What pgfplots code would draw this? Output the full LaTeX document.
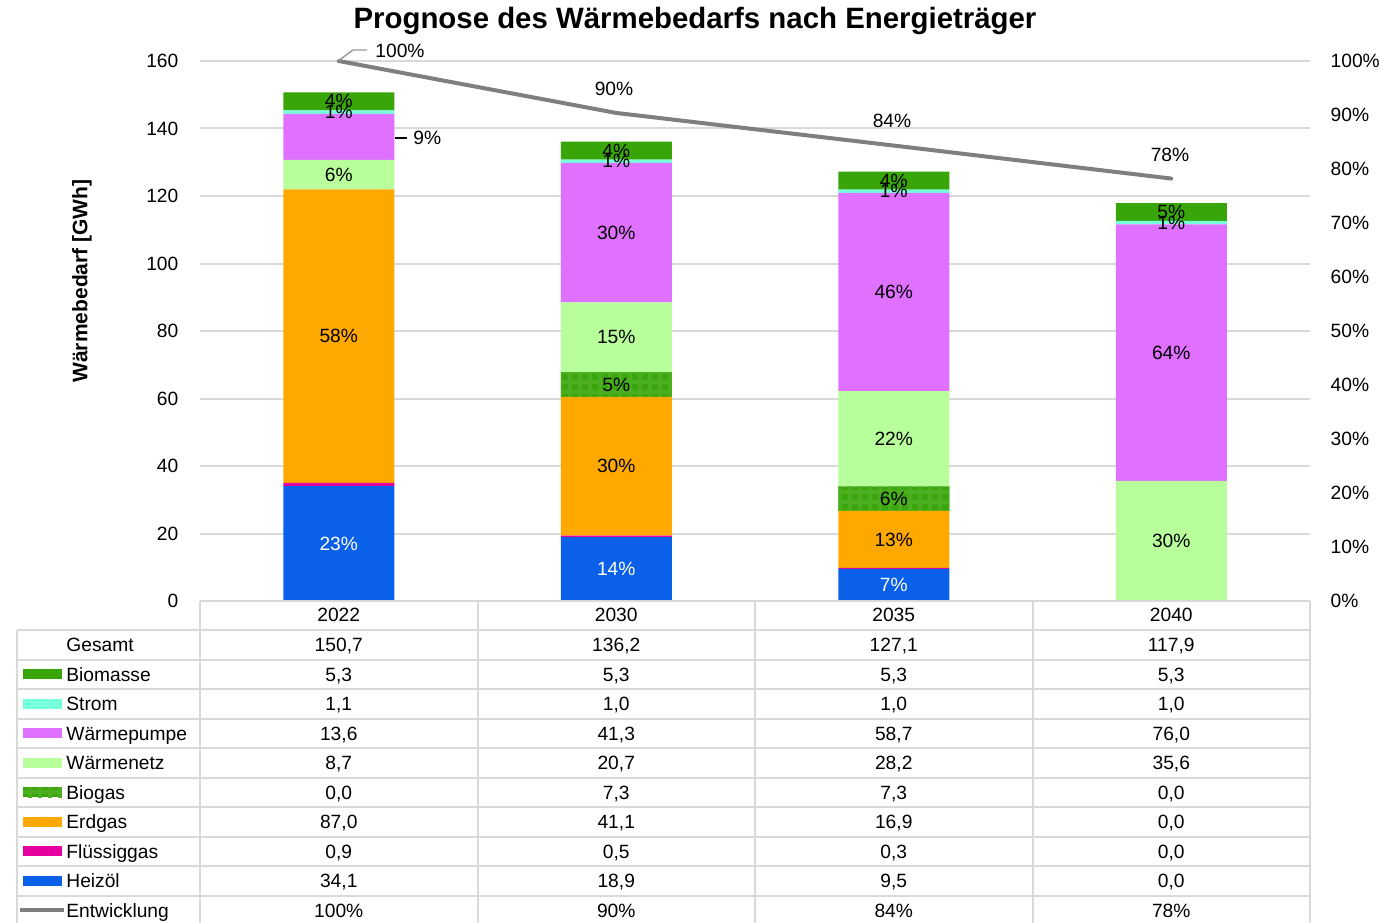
\documentclass[border=0pt]{standalone}
\usepackage{pgfplots}
\pgfplotsset{compat=1.18}
\usepackage{pgfplotstable}
\usepackage{fontspec}
\setmainfont{Liberation Sans}
\usetikzlibrary{patterns.meta}
\definecolor{cBiomasse}{HTML}{38A508}
\definecolor{cStrom}{HTML}{76FFDC}
\definecolor{cWP}{HTML}{E070FF}
\definecolor{cWN}{HTML}{B8FF9C}
\definecolor{cBiogas}{HTML}{3AA50C}
\definecolor{cBiogasL}{HTML}{4AAE1E}
\definecolor{cErdgas}{HTML}{FFA800}
\definecolor{cFluess}{HTML}{E600A0}
\definecolor{cHeizoel}{HTML}{0A60E8}
\definecolor{cLine}{HTML}{7F7F7F}
\definecolor{cGrid}{HTML}{D9D9D9}
\newcommand\tf{\fontsize{9.6}{11.5}\selectfont}

\pgfplotstableread{
x Heizoel Fluessiggas Erdgas Biogas Waermenetz Waermepumpe Strom Biomasse Gesamt Entw
0 34.1 0.9 87.0 0.0 8.7 13.6 1.1 5.3 150.7 100
1 18.9 0.5 41.1 7.3 20.7 41.3 1.0 5.3 136.2 90.38
2 9.5 0.3 16.9 7.3 28.2 58.7 1.0 5.3 127.1 84.34
3 0.0 0.0 0.0 0.0 35.6 76.0 1.0 5.3 117.9 78.23
}\data

\pgfplotstableread{
x y p
0 148.05 4
0 144.85 1
0 126.35 6
0 78.5 58
1 133.45 4
1 130.3 1
1 109.15 30
1 78.15 15
1 64.15 5
1 39.95 30
2 124.55 4
2 121.4 1
2 91.55 46
2 48.1 22
2 30.35 6
2 18.25 13
3 115.25 5
3 112.1 1
3 73.6 64
3 17.8 30
}\blacklab

\pgfplotstableread{
x y p
0 17.05 23
1 9.45 14
2 4.75 7
}\whitelab

\tikzset{biogasfill/.style={fill=cBiogas, postaction={pattern={Hatch[angle=0, distance=5pt, line width=2.2pt]}, pattern color=cBiogasL}}}

\begin{document}
\begin{tikzpicture}

\begin{axis}[
  at={(0,0)}, anchor=south west,
  scale only axis, width=555pt, height=270pt,
  xmin=-0.5, xmax=3.5, ymin=0, ymax=160,
  enlargelimits=false,
  ybar stacked, bar width=55.5pt,
  xtick={0,1,2,3}, xticklabels={2022,2030,2035,2040},
  ytick={0,20,...,160},
  ymajorgrids, grid style={cGrid, line width=1pt},
  axis line style={draw=none},
  major tick length=0pt,
  tick label style={font=\tf},
  /pgf/number format/assume math mode=true,
  xticklabel style={anchor=base, yshift=-10pt},
  yticklabel style={xshift=-7.3pt},
  clip=false,
]
\addplot[fill=cHeizoel, draw=none] table[x=x, y=Heizoel] {\data};
\addplot[fill=cFluess, draw=none] table[x=x, y=Fluessiggas] {\data};
\addplot[fill=cErdgas, draw=none] table[x=x, y=Erdgas] {\data};
\addplot[biogasfill, draw=none] table[x=x, y=Biogas] {\data};
\addplot[fill=cWN, draw=none] table[x=x, y=Waermenetz] {\data};
\addplot[fill=cWP, draw=none] table[x=x, y=Waermepumpe] {\data};
\addplot[fill=cStrom, draw=none] table[x=x, y=Strom] {\data};
\addplot[fill=cBiomasse, draw=none] table[x=x, y=Biomasse] {\data};
\end{axis}

\begin{axis}[
  at={(0,0)}, anchor=south west,
  scale only axis, width=555pt, height=270pt,
  xmin=-0.5, xmax=3.5, ymin=0, ymax=160,
  enlargelimits=false, hide axis, clip=false,
]
\addplot[mark=none, draw=none, nodes near coords={\pgfplotspointmeta\%},
  point meta=explicit symbolic,
  every node near coord/.append style={anchor=center, font=\tf, text=black, inner sep=0pt}]
  table[x=x, y=y, meta=p] {\blacklab};
\addplot[mark=none, draw=none, nodes near coords={\pgfplotspointmeta\%},
  point meta=explicit symbolic,
  every node near coord/.append style={anchor=center, font=\tf, text=white, inner sep=0pt}]
  table[x=x, y=y, meta=p] {\whitelab};
\end{axis}

\begin{axis}[
  at={(0,0)}, anchor=south west,
  scale only axis, width=555pt, height=270pt,
  xmin=-0.5, xmax=3.5, ymin=0, ymax=100,
  enlargelimits=false,
  axis x line=none, axis y line*=right,
  axis line style={draw=none}, major tick length=0pt,
  ytick={0,10,...,100},
  yticklabel={\pgfmathprintnumber{\tick}\%},
  yticklabel style={font=\tf, xshift=6.8pt},
  /pgf/number format/assume math mode=true,
  clip=false,
]
\addplot[cLine, line width=2pt, mark=none, line cap=round] table[x=x, y=Entw] {\data};
\end{axis}

\begin{scope}[x=0.5pt, y=-0.5pt, xshift=-100pt, yshift=300.5pt]
  % title and y label
  \node[font=\bfseries\fontsize{14.7}{17}\selectfont, anchor=center] at (695,21) {Prognose des Wärmebedarfs nach Energieträger};
  \node[font=\bfseries\fontsize{10.5}{12}\selectfont, rotate=90, anchor=center] at (82,281) {Wärmebedarf [GWh]};
  % annotations
  \draw[black, line width=0.9pt] (395,138) -- (407,138);
  \node[font=\tf, anchor=west, inner sep=0pt] at (413,138) {9\%};
  \draw[cLine!80, line width=0.7pt] (338,61) -- (353,50) -- (367,50);
  \node[font=\tf, anchor=west, inner sep=0pt] at (375,51) {100\%};
  \node[font=\tf] at (614,89) {90\%};
  \node[font=\tf] at (892,121) {84\%};
  \node[font=\tf] at (1170,155) {78\%};
  % table grid
  \foreach \k in {0,...,9} {
    \draw[cGrid, line width=1pt] (17,{630+29.5*\k}) -- (1310,{630+29.5*\k});
  }
  \draw[cGrid, line width=1pt] (17,630) -- (17,930);
  \foreach \xx in {200,477.5,755,1032.5,1310} {
    \draw[cGrid, line width=1pt] (\xx,601) -- (\xx,930);
  }
  \draw[cGrid, line width=1pt] (200,601) -- (1310,601);
  % row labels
  \foreach \lab [count=\i from 0] in {Gesamt,Biomasse,Strom,Wärmepumpe,Wärmenetz,Biogas,Erdgas,Flüssiggas,Heizöl,Entwicklung} {
    \node[anchor=base west, inner sep=0pt, font=\tf] at (66,{630+29.5*\i+21.75}) {\lab};
  }
  % legend keys
  \foreach \c [count=\i from 1] in {cBiomasse,cStrom,cWP,cWN,cBiogas,cErdgas,cFluess,cHeizoel} {
    \fill[\c] (23,{630+29.5*\i+9.75}) rectangle (62,{630+29.5*\i+19.75});
  }
  \fill[biogasfill] (23,{630+29.5*5+9.75}) rectangle (62,{630+29.5*5+19.75});
  \draw[cLine, line width=2pt] (20,{630+29.5*9+14.75}) -- (64,{630+29.5*9+14.75});
  % values
  \foreach \col [count=\i from 0] in {Gesamt,Biomasse,Strom,Waermepumpe,Waermenetz,Biogas,Erdgas,Fluessiggas,Heizoel} {
    \foreach \r in {0,1,2,3} {
      \pgfplotstablegetelem{\r}{\col}\of\data
      \node[anchor=base, inner sep=0pt, font=\tf] at ({338.75+277.5*\r},{630+29.5*\i+21.75}) {\pgfmathprintnumber[assume math mode=true, fixed, fixed zerofill, precision=1, use comma]{\pgfplotsretval}};
    }
  }
  \foreach \r in {0,1,2,3} {
    \pgfplotstablegetelem{\r}{Entw}\of\data
    \node[anchor=base, inner sep=0pt, font=\tf] at ({338.75+277.5*\r},{630+29.5*9+21.75}) {\pgfmathprintnumber[assume math mode=true, fixed, precision=0]{\pgfplotsretval}\%};
  }
  \pgfresetboundingbox
  \path[use as bounding box] (0,0) rectangle (1381,922);
\end{scope}
\end{tikzpicture}
\end{document}
